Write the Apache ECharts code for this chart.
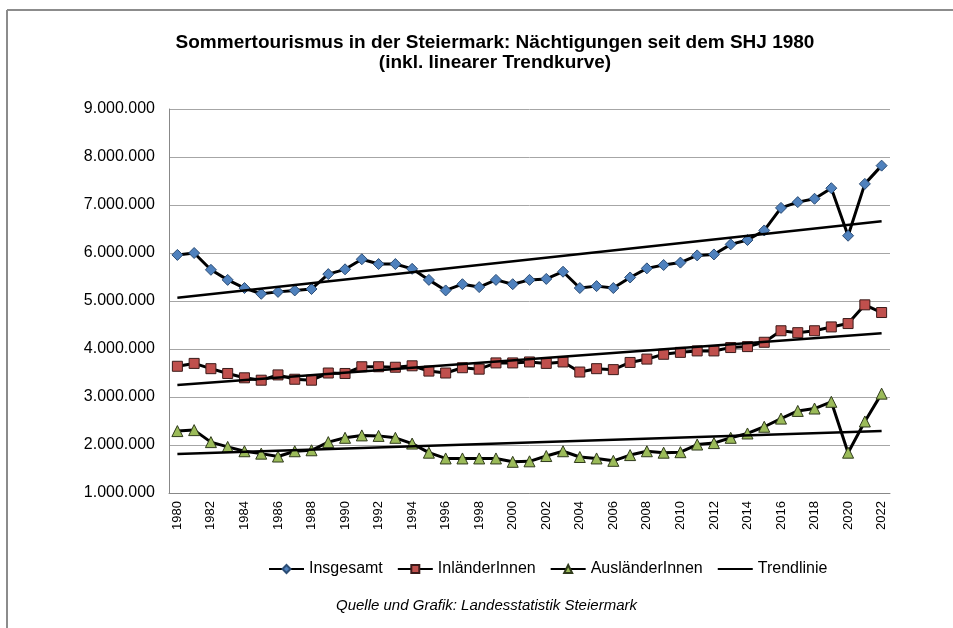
<!DOCTYPE html>
<html>
<head>
<meta charset="utf-8">
<script src="https://cdn.jsdelivr.net/npm/echarts@6/dist/echarts.min.js"></script>
<style>
  html, body { margin: 0; padding: 0; background: #fff; }
  #chart { width: 953px; height: 628px; }
</style>
</head>
<body>
<div id="chart"></div>
<script>
const years = ['1980', '1981', '1982', '1983', '1984', '1985', '1986', '1987', '1988', '1989',
  '1990', '1991', '1992', '1993', '1994', '1995', '1996', '1997', '1998', '1999',
  '2000', '2001', '2002', '2003', '2004', '2005', '2006', '2007', '2008', '2009',
  '2010', '2011', '2012', '2013', '2014', '2015', '2016', '2017', '2018', '2019',
  '2020', '2021', '2022']

// Nächtigungen (geschätzt aus der Grafik)
const insgesamt = [5960000, 6000000, 5650000, 5440000, 5270000, 5150000, 5190000, 5220000, 5250000, 5560000,
  5660000, 5870000, 5770000, 5770000, 5670000, 5440000, 5220000, 5350000, 5290000, 5440000,
  5350000, 5440000, 5460000, 5610000, 5270000, 5310000, 5270000, 5490000, 5680000, 5750000,
  5800000, 5950000, 5970000, 6180000, 6270000, 6470000, 6940000, 7060000, 7130000, 7350000,
  6360000, 7440000, 7820000]
const inlaender = [3640000, 3700000, 3590000, 3490000, 3400000, 3350000, 3460000, 3370000, 3350000, 3500000,
  3490000, 3630000, 3630000, 3620000, 3650000, 3540000, 3500000, 3610000, 3580000, 3710000,
  3710000, 3730000, 3700000, 3730000, 3520000, 3590000, 3570000, 3720000, 3790000, 3890000,
  3930000, 3960000, 3960000, 4030000, 4050000, 4140000, 4380000, 4340000, 4380000, 4460000,
  4530000, 4920000, 4760000]
const auslaender = [2290000, 2310000, 2060000, 1960000, 1870000, 1820000, 1760000, 1870000, 1890000, 2060000,
  2150000, 2200000, 2190000, 2150000, 2030000, 1840000, 1720000, 1720000, 1720000, 1720000,
  1650000, 1660000, 1770000, 1870000, 1750000, 1720000, 1670000, 1790000, 1870000, 1840000,
  1850000, 2010000, 2040000, 2150000, 2240000, 2380000, 2550000, 2710000, 2760000, 2900000,
  1840000, 2490000, 3070000]

// lineare Trendlinien: Wert 1980 und 2022
const trendInsgesamt = [5070000, 6660000]
const trendInlaender = [3250000, 4330000]
const trendAuslaender = [1810000, 2290000]

const chart = echarts.init(document.getElementById('chart'))

function fmt(v) {
  return String(v).replace(/\B(?=(\d{3})+(?!\d))/g, '.')
}

function trend(vals) {
  return [[years[0], vals[0]], [years[years.length - 1], vals[1]]]
}

const markerLine = { color: '#000', width: 3 }
const trendStyle = { color: '#000', width: 2.5 }

const option = {
  backgroundColor: '#fff',
  animation: false,
  title: {
    text: 'Sommertourismus in der Steiermark: Nächtigungen seit dem SHJ 1980\n(inkl. linearer Trendkurve)',
    left: 490,
    top: 28,
    textAlign: 'center',
    textStyle: {
      fontFamily: 'Liberation Sans',
      fontSize: 19,
      fontWeight: 'bold',
      lineHeight: 20,
      color: '#000'
    }
  },
  legend: {
    top: 556,
    left: 263,
    itemWidth: 35,
    itemHeight: 10,
    itemGap: 14,
    textStyle: { fontFamily: 'Liberation Sans', fontSize: 16, color: '#000' },
    data: [
      'Insgesamt', 'InländerInnen', 'AusländerInnen',
      { name: 'Trendlinie', itemStyle: { opacity: 0 } }
    ]
  },
  grid: { left: 169, right: 63, top: 109, bottom: 135 },
  xAxis: {
    type: 'category',
    data: years,
    boundaryGap: true,
    axisLine: { lineStyle: { color: '#888', width: 1 } },
    axisTick: { show: false },
    axisLabel: {
      interval: 1,
      rotate: 90,
      margin: 8,
      fontFamily: 'Liberation Sans',
      fontSize: 13,
      color: '#000'
    }
  },
  yAxis: {
    type: 'value',
    min: 1000000,
    max: 9000000,
    interval: 1000000,
    axisLine: { show: true, lineStyle: { color: '#888', width: 1 } },
    axisTick: { show: false },
    splitLine: { lineStyle: { color: '#a6a6a6', width: 1 } },
    axisLabel: {
      margin: 14,
      fontFamily: 'Liberation Sans',
      fontSize: 16,
      color: '#000',
      formatter: fmt
    }
  },
  graphic: [
    { type: 'line', shape: { x1: 7, y1: 10, x2: 953, y2: 10 }, style: { stroke: '#8c8c8c', lineWidth: 2 } },
    { type: 'line', shape: { x1: 7, y1: 10, x2: 7, y2: 628 }, style: { stroke: '#8c8c8c', lineWidth: 2 } },
    {
      type: 'text', left: 336, top: 598,
      style: {
        text: 'Quelle und Grafik: Landesstatistik Steiermark',
        font: 'italic 15px "Liberation Sans"',
        fill: '#000'
      }
    }
  ],
  series: [
    {
      name: 'Insgesamt', type: 'line', data: insgesamt,
      symbol: 'diamond', symbolSize: 11,
      lineStyle: markerLine,
      itemStyle: { color: '#4f81bd', borderColor: '#2c4d75', borderWidth: 1 },
      z: 3
    },
    {
      name: 'InländerInnen', type: 'line', data: inlaender,
      symbol: 'rect', symbolSize: 10,
      lineStyle: markerLine,
      itemStyle: { color: '#c0504d', borderColor: '#3a1a19', borderWidth: 1 },
      z: 3
    },
    {
      name: 'AusländerInnen', type: 'line', data: auslaender,
      symbol: 'triangle', symbolSize: 11,
      lineStyle: markerLine,
      itemStyle: { color: '#9bbb59', borderColor: '#2f3a1b', borderWidth: 1 },
      z: 3
    },
    {
      name: 'Trendlinie', type: 'line', data: trend(trendInsgesamt),
      symbol: 'none', lineStyle: trendStyle, itemStyle: { color: '#000' }, z: 4
    },
    {
      name: 'Trendlinie', type: 'line', data: trend(trendInlaender),
      symbol: 'none', lineStyle: trendStyle, itemStyle: { color: '#000' }, z: 4
    },
    {
      name: 'Trendlinie', type: 'line', data: trend(trendAuslaender),
      symbol: 'none', lineStyle: trendStyle, itemStyle: { color: '#000' }, z: 4
    }
  ]
}

chart.setOption(option)
</script>
</body>
</html>
